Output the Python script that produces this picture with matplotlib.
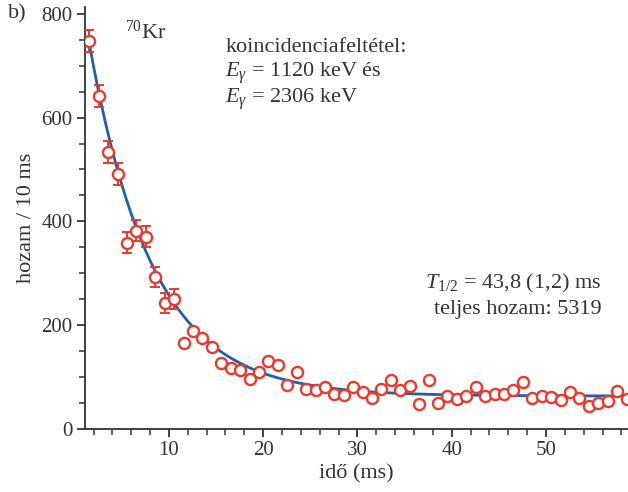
import numpy as np
import matplotlib
matplotlib.use('Agg')
import matplotlib.pyplot as plt
from matplotlib.ticker import MultipleLocator

# font settings (serif, close to the Garamond of the original)
plt.rcParams['font.family'] = ['Liberation Serif', 'DejaVu Serif']
plt.rcParams['mathtext.fontset'] = 'custom'
plt.rcParams['mathtext.rm'] = 'Liberation Serif'
plt.rcParams['mathtext.it'] = 'Liberation Serif:italic'

# measured decay curve (bin centres in ms, counts per bin)
time_ms = [1.55, 2.55, 3.55, 4.55, 5.55, 6.55, 7.55, 8.55, 9.55, 10.55,
           11.55, 12.55, 13.55, 14.55, 15.55, 16.55, 17.55, 18.55, 19.55, 20.55,
           21.55, 22.55, 23.55, 24.55, 25.55, 26.55, 27.55, 28.55, 29.55, 30.55,
           31.55, 32.55, 33.55, 34.55, 35.55, 36.55, 37.55, 38.55, 39.55, 40.55,
           41.55, 42.55, 43.55, 44.55, 45.55, 46.55, 47.55, 48.55, 49.55, 50.55,
           51.55, 52.55, 53.55, 54.55, 55.55, 56.55, 57.55, 58.55]
counts = [748, 641, 534, 491, 359, 382, 370, 292, 242, 250,
          166, 188, 175, 157, 126, 117, 113, 95, 109, 131,
          122, 84, 110, 76, 75, 80, 66, 65, 81, 71,
          60, 76, 94, 75, 82, 48, 94, 49, 64, 57,
          64, 81, 64, 66, 66, 75, 91, 60, 64, 61,
          55, 71, 60, 44, 50, 53, 73, 57]
# error bars are only drawn for the first ten bins
err_time = time_ms[:10]
err_counts = counts[:10]
err_size = [22, 21, 21, 21, 20, 20, 20, 19, 19, 19]

# fitted exponential + constant background
fit_amp = 856.0
fit_tau = 6.74
fit_bg = 63.0

red = '#e63b2e'
blue = '#1f5fae'
text_col = '#333333'

fig = plt.figure(figsize=(6.28, 4.92), dpi=100)
ax = fig.add_axes([0.1354, 0.1287, 0.8646, 0.8577])

# fit curve, starting at the first bin
t_fit = np.linspace(time_ms[0], 59.0, 400)
ax.plot(t_fit, fit_bg + fit_amp * np.exp(-t_fit / fit_tau), color=blue, lw=2.0, zorder=2)

# error bars for the first points
ax.errorbar(err_time, err_counts, yerr=err_size, fmt='none', ecolor=red,
            elinewidth=1.4, capsize=3.5, capthick=1.4, zorder=3)

# data points
ax.plot(time_ms, counts, 'o', mfc='white', mec=red, mew=1.7, ms=8, zorder=4)

ax.set_xlim(1.1, 58.7)
ax.set_ylim(0, 814)

ax.xaxis.set_major_locator(MultipleLocator(10))
ax.xaxis.set_minor_locator(MultipleLocator(2))
ax.yaxis.set_major_locator(MultipleLocator(200))
ax.yaxis.set_minor_locator(MultipleLocator(50))

for side in ['top', 'right']:
    ax.spines[side].set_visible(False)
for side in ['left', 'bottom']:
    ax.spines[side].set_color(text_col)
    ax.spines[side].set_linewidth(1.3)

ax.tick_params(which='major', direction='out', length=6, width=1.3, color=text_col,
               labelsize=15, labelcolor=text_col, pad=3)
ax.tick_params(which='minor', direction='out', length=4, width=1.1, color=text_col)

ax.set_xlabel('idő (ms)', fontsize=16, color=text_col, labelpad=3)
ax.set_ylabel('hozam / 10 ms', fontsize=16, color=text_col, labelpad=4)

# annotations
fig.text(0.013, 0.972, 'b)', fontsize=16, color=text_col, va='center')
ax.text(5.3, 765, r'$^{70}$Kr', fontsize=16, color=text_col, va='center')
ax.text(16.0, 736, 'koincidenciafeltétel:', fontsize=16, color=text_col, va='center')
ax.text(16.0, 686, r'$E_\gamma$ = 1120 keV és', fontsize=16, color=text_col, va='center')
ax.text(16.0, 636, r'$E_\gamma$ = 2306 keV', fontsize=16, color=text_col, va='center')
ax.text(55.9, 281, r'$T_{1/2}$ = 43,8 (1,2) ms', fontsize=16, color=text_col,
        va='center', ha='right')
ax.text(55.9, 229, 'teljes hozam: 5319', fontsize=16, color=text_col,
        va='center', ha='right')

fig.savefig('out.png', dpi=100)
